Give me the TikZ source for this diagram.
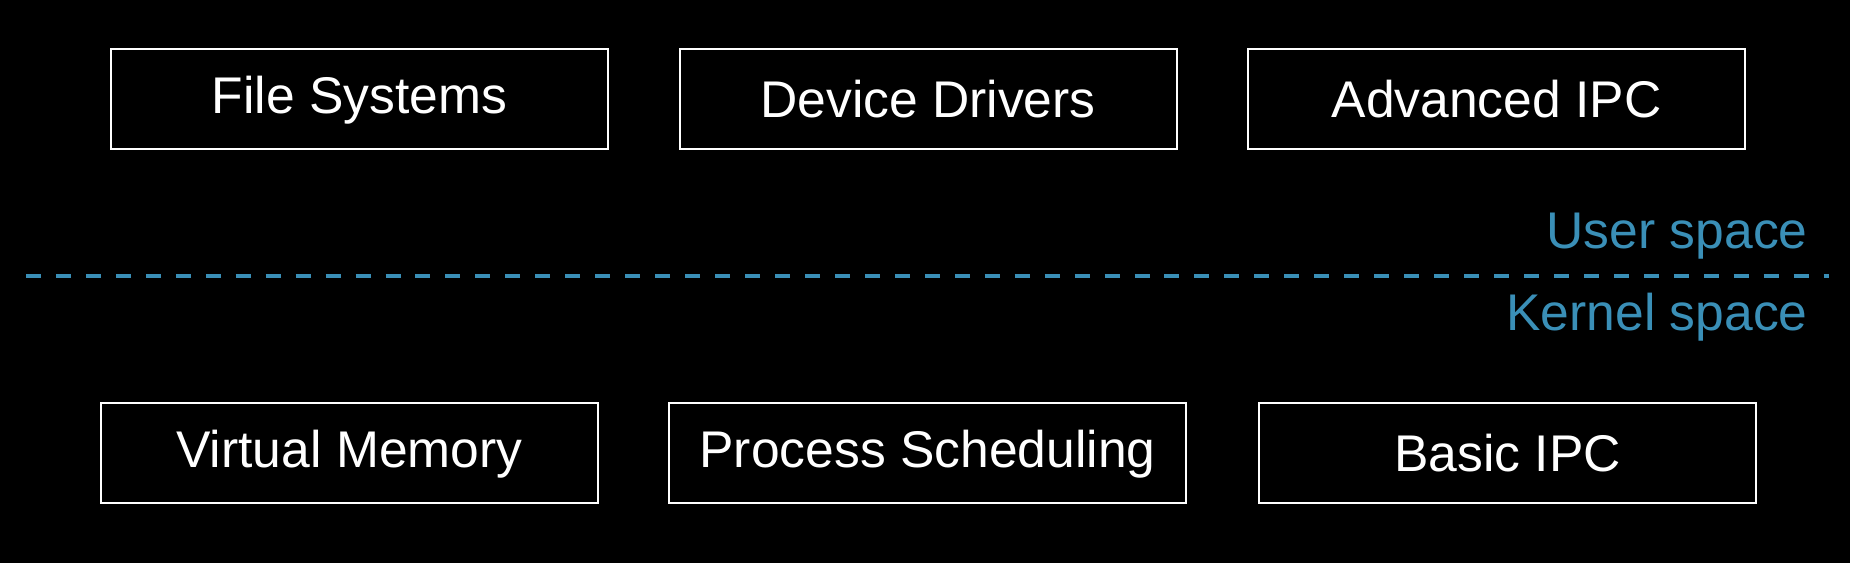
\documentclass[tikz,border=0pt]{standalone}
\usepackage{fontspec}
\setmainfont{Liberation Sans}
\usepackage{tikz}
\definecolor{spaceblue}{HTML}{3A8FB7}
\tikzset{box/.style={draw=white, line width=1pt, text=white, minimum height=50pt,
      inner sep=0pt, text height=18.5pt, text depth=0pt, font=\fontsize{25.8}{30}\selectfont}}
\tikzset{raised/.style={text depth=4pt}}
\tikzset{spacelabel/.style={text=spaceblue, inner sep=0pt, anchor=base east,
      font=\fontsize{25.8}{30}\selectfont}}

\begin{document}
\begin{tikzpicture}[x=0.5pt,y=-0.5pt]
    \useasboundingbox (0,0) rectangle (1850,562);
    \fill[black] (-10,-10) rectangle (1860,572);
    % user space
    \node[box, raised, minimum width=248.5pt] (fs) at (359.5,99) {File Systems};
    \node[box, minimum width=248.5pt] (dd) at (928,99) {Device Drivers};
    \node[box, minimum width=248.5pt] (aipc) at (1496.5,99) {Advanced IPC};
    % kernel space
    \node[box, raised, minimum width=248.5pt] (vm) at (349.5,453) {Virtual Memory};
    \node[box, raised, minimum width=258.5pt] (ps) at (927.5,453) {Process Scheduling};
    \node[box, minimum width=248.5pt] (bipc) at (1507.5,453) {Basic IPC};
    % boundary
    \coordinate (bl) at (26,276);
    \coordinate (br) at (1829,276);
    \draw[spaceblue, line width=1.6pt, dash pattern=on 7.5pt off 7.48pt] (bl) -- (br);
    \node[spacelabel] (user) at (1808,248) {User space};
    \node[spacelabel] (kernel) at (1808,330) {Kernel space};
\end{tikzpicture}
\end{document}
